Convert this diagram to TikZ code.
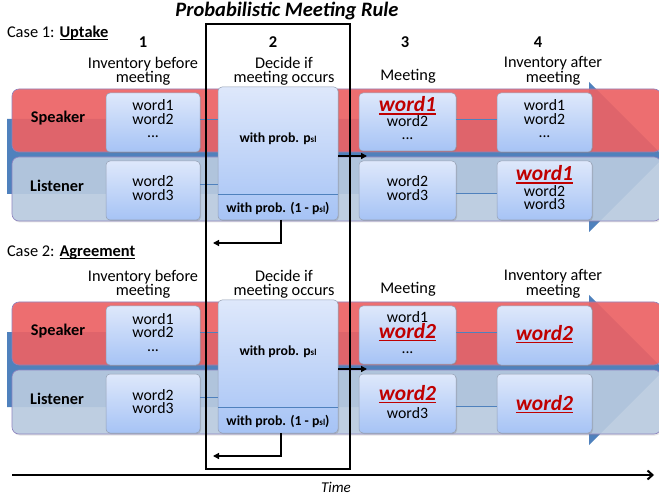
\documentclass[tikz,border=0pt]{standalone}
\usepackage{fontspec}
\setmainfont{Carlito}
\usetikzlibrary{arrows.meta,shadows}
\definecolor{arrowblue}{RGB}{79,129,189}
\definecolor{bandred}{RGB}{238,98,100}
\definecolor{bandblue}{RGB}{186,204,225}
\definecolor{bandedge}{RGB}{140,130,190}
\definecolor{boxtop}{RGB}{222,232,251}
\definecolor{boxbot}{RGB}{166,195,245}
\definecolor{boxedge}{RGB}{150,160,180}
\definecolor{wred}{RGB}{192,0,0}
\newcommand\rw[1]{{\fontsize{21.5}{13.5}\selectfont\color{wred}\bfseries\itshape\setbox0=\hbox{#1}\dimen0=\wd0\rlap{\box0}\raisebox{-3pt}{\rule{\dimen0}{1.5pt}}}}
\newcommand\ulb[1]{{\bfseries\setbox0=\hbox{#1}\dimen0=\wd0\rlap{\box0}\raisebox{-2.5pt}{\rule{\dimen0}{1.2pt}}}}
\newcommand\psl{p{\fontsize{9}{9}\selectfont sl}}
\newcommand\tightls{\lineskiplimit-100pt\relax}
\newcommand\wfont{\fontsize{15.8}{13.5}\selectfont\tightls}
\begin{document}
\begin{tikzpicture}[x=1pt,y=-1pt,
  every node/.style={inner sep=0pt,outer sep=0pt},
  band/.style={rounded corners=7pt, draw=bandedge, line width=0.6pt, fill opacity=0.9,
    drop shadow={opacity=0.2,shadow xshift=1pt,shadow yshift=-1.5pt}},
  inbox/.style={rounded corners=4pt, draw=boxedge, line width=0.5pt, top color=boxtop, bottom color=boxbot,
    drop shadow={opacity=0.3,shadow xshift=1pt,shadow yshift=-1pt}},
  wtxt/.style={anchor=base, align=center, font=\wfont},
  hdr/.style={align=center, font=\fontsize{16.3}{14.5}\selectfont},
  num/.style={anchor=base, font=\fontsize{16.5}{16.5}\selectfont\bfseries},
  role/.style={font=\fontsize{16.3}{16.3}\selectfont\bfseries},
  prob/.style={font=\fontsize{13.8}{13.8}\selectfont\bfseries},
  conn/.style={draw=arrowblue, line width=0.9pt},
  blk/.style={draw=black, line width=1.3pt, -{Triangle[length=6pt,width=6pt]}},
  casel/.style={anchor=base west, font=\fontsize{16.4}{16.4}\selectfont}]
\clip (0,0) rectangle (659,497);
\useasboundingbox (0,0) rectangle (659,497);
\fill[white] (0,0) rectangle (659,497);

\node[anchor=base, font=\fontsize{20.5}{20.5}\selectfont\bfseries\itshape] (title) at (287,17) {Probabilistic Meeting Rule};
\node[num] (n1) at (143,48) {1};
\node[num] (n2) at (273,48) {2};
\node[num] (n3) at (405,48) {3};
\node[num] (n4) at (538,48) {4};

% ---------- Case 1 ----------
\node[casel] (case1) at (7,38) {Case 1: \ulb{Uptake}};
\node[hdr] (h1a) at (143,71) {Inventory before\\meeting};
\node[hdr] (h2a) at (284,71) {Decide if\\meeting occurs};
\node[hdr] (h3a) at (408,76) {Meeting};
\node[hdr] (h4a) at (553,71) {Inventory after\\meeting};

\fill[arrowblue] (7,119) -- (589,119) -- (589,82) -- (664,157) -- (589,232) -- (589,194) -- (7,194) -- cycle;
\draw[band, fill=bandred] (12,89) rectangle (661,152);
\draw[band, fill=bandblue] (12,157) rectangle (661,221);
\node[role] (spa) at (58,118) {Speaker};
\node[role] (lia) at (57,186) {Listener};

\node[inbox, minimum width=94pt, minimum height=59pt] (s1a) at (153,122.5) {};
\node[inbox, minimum width=94pt, minimum height=59pt] (l1a) at (153,190.5) {};
\node[inbox, minimum width=120pt, minimum height=133pt] (da) at (278,153.5) {};
\node[inbox, minimum width=97pt, minimum height=58pt] (s3a) at (407.5,122) {};
\node[inbox, minimum width=97pt, minimum height=59pt] (l3a) at (407.5,190.5) {};
\node[inbox, minimum width=95pt, minimum height=59pt] (s4a) at (544.5,122.5) {};
\node[inbox, minimum width=95pt, minimum height=59pt] (l4a) at (544.5,190.5) {};

\draw[conn] ([yshift=3.5pt]s1a.east) -- ([yshift=3.5pt]s1a.east -| da.west);
\draw[conn] ([yshift=6.5pt]l1a.east) -- ([yshift=6.5pt]l1a.east -| da.west);
\draw[conn] ([yshift=3pt]s3a.east) -- ([yshift=3pt]s3a.east -| s4a.west);
\draw[conn] ([yshift=-2.5pt]l3a.east) -- ([yshift=-2.5pt]l3a.east -| l4a.west);
\draw[conn] (da.west |- 0,194) -- (da.east |- 0,194);

\node[wtxt] (t1a) at (153,138) {word1\\word2\\...};
\node[wtxt] (t2a) at (153,200.5) {word2\\word3};
\node[prob] (pa1) at (278,139) {with prob. \psl};
\node[prob] (pa2) at (278,208) {with prob. (1 - \psl)};
\node[wtxt] (t3a) at (407.5,140) {\rw{word1}\\[1.5pt]word2\\[-0.5pt]...};
\node[wtxt] (t4a) at (407.5,200.5) {word2\\word3};
\node[wtxt] (t5a) at (544.5,138) {word1\\word2\\...};
\node[wtxt] (t6a) at (544.5,209.5) {\rw{word1}\\[2.5pt]word2\\[-1pt]word3};

\coordinate (ma) at (367,156);
\coordinate (fba) at (213,243);
\draw[blk] ([yshift=-2.5pt]da.east) -- (ma);
\draw[blk] ([xshift=3pt]da.south) |- (fba);

% ---------- Case 2 ----------
\node[casel] (case2) at (7,257) {Case 2: \ulb{Agreement}};
\node[hdr] (h1b) at (143,284) {Inventory before\\meeting};
\node[hdr] (h2b) at (284,284) {Decide if\\meeting occurs};
\node[hdr] (h3b) at (408,289) {Meeting};
\node[hdr] (h4b) at (553,284) {Inventory after\\meeting};

\fill[arrowblue] (7,332) -- (589,332) -- (589,295) -- (664,370) -- (589,445) -- (589,407) -- (7,407) -- cycle;
\draw[band, fill=bandred] (12,302) rectangle (661,365);
\draw[band, fill=bandblue] (12,370) rectangle (661,434);
\node[role] (spb) at (58,331) {Speaker};
\node[role] (lib) at (57,399) {Listener};

\node[inbox, minimum width=94pt, minimum height=59pt] (s1b) at (153,335.5) {};
\node[inbox, minimum width=94pt, minimum height=59pt] (l1b) at (153,403.5) {};
\node[inbox, minimum width=120pt, minimum height=133pt] (db) at (278,366.5) {};
\node[inbox, minimum width=97pt, minimum height=58pt] (s3b) at (407.5,335) {};
\node[inbox, minimum width=97pt, minimum height=59pt] (l3b) at (407.5,403.5) {};
\node[inbox, minimum width=95pt, minimum height=59pt] (s4b) at (544.5,335.5) {};
\node[inbox, minimum width=95pt, minimum height=59pt] (l4b) at (544.5,403.5) {};

\draw[conn] ([yshift=3.5pt]s1b.east) -- ([yshift=3.5pt]s1b.east -| db.west);
\draw[conn] ([yshift=6.5pt]l1b.east) -- ([yshift=6.5pt]l1b.east -| db.west);
\draw[conn] ([yshift=3pt]s3b.east) -- ([yshift=3pt]s3b.east -| s4b.west);
\draw[conn] ([yshift=-2.5pt]l3b.east) -- ([yshift=-2.5pt]l3b.east -| l4b.west);
\draw[conn] (db.west |- 0,407) -- (db.east |- 0,407);

\node[wtxt] (t1b) at (153,351) {word1\\word2\\...};
\node[wtxt] (t2b) at (153,413.5) {word2\\word3};
\node[prob] (pb1) at (278,352) {with prob. \psl};
\node[prob] (pb2) at (278,421) {with prob. (1 - \psl)};
\node[wtxt] (t3b) at (407.5,353) {word1\\[2.5pt]\rw{word2}\\[1.5pt]...};
\node[wtxt] (t4b) at (407.5,418) {\rw{word2}\\[4.5pt]word3};
\node[wtxt] (t5b) at (544.5,340) {\rw{word2}};
\node[wtxt] (t6b) at (544.5,410) {\rw{word2}};

\coordinate (mb) at (367,369);
\coordinate (fbb) at (213,456);
\draw[blk] ([yshift=-2.5pt]db.east) -- (mb);
\draw[blk] ([xshift=3pt]db.south) |- (fbb);

% ---------- rule box and time ----------
\draw[black, line width=1.3pt] (206,24) rectangle (350,469);
\coordinate (t0) at (12,475);
\coordinate (t1) at (654,475);
\draw[black, line width=2pt, -{Straight Barb[length=5pt,width=9pt]}] (t0) -- (t1);
\node[anchor=base, font=\fontsize{15}{15}\selectfont\itshape] (time) at (336,492) {Time};
\end{tikzpicture}
\end{document}
